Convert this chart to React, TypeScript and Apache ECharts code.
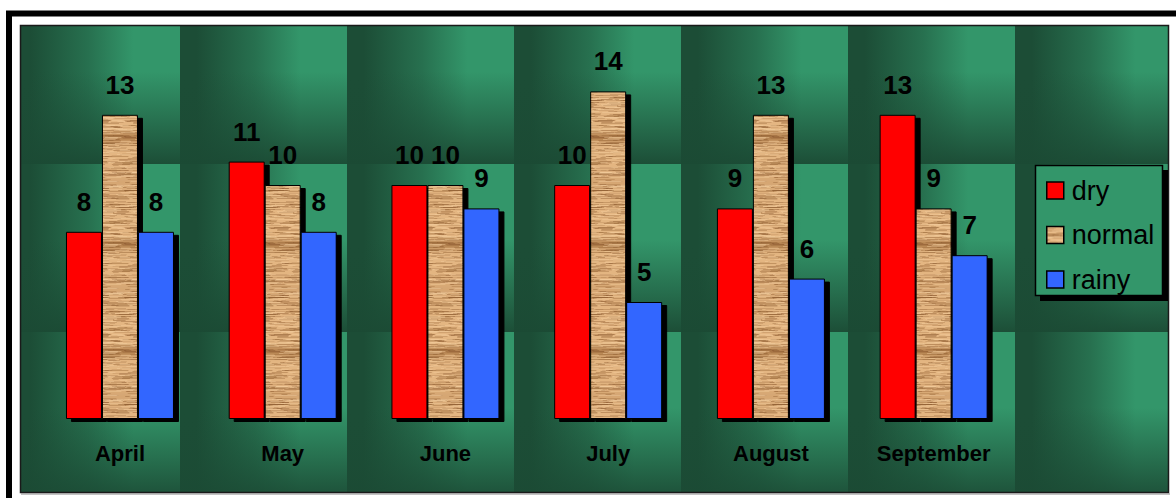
import React, { useEffect, useRef } from 'react';
import * as echarts from 'echarts';

const categories = ['April', 'May', 'June', 'July', 'August', 'September'];
const seriesNames = ['dry', 'normal', 'rainy'];
const dryValues = [8, 11, 10, 10, 9, 13];
const normalValues = [13, 10, 10, 14, 13, 9];
const rainyValues = [8, 8, 9, 5, 6, 7];

const FONT = '"Liberation Sans", Arial, Helvetica, sans-serif';
const DARK = '#1c4d36';
const LIGHT = '#33966a';

function hash(n: number): number {
  const v = Math.sin(n * 12.9898 + 78.233) * 43758.5453;
  return v - Math.floor(v);
}

function makeWood(): HTMLCanvasElement {
  const w = 36;
  const h = 107;
  const c = document.createElement('canvas');
  c.width = w;
  c.height = h;
  const ctx = c.getContext('2d')!;
  for (let y = 0; y < h; y++) {
    const d1 = Math.exp(-Math.pow((y - 30) / 5, 2));
    const d2 = 0.3 * Math.exp(-Math.pow((y - 75) / 10, 2));
    const d = Math.min(1, d1 + d2);
    const r = Math.round(228 - 48 * d);
    const g = Math.round(182 - 52 * d);
    const b = Math.round(130 - 50 * d);
    ctx.fillStyle = `rgb(${r},${g},${b})`;
    ctx.fillRect(0, y, w, 1);
  }
  for (let i = 0; i < 200; i++) {
    const y = Math.floor(hash(i + 1) * h);
    const x = hash(i + 1000) * w;
    const len = 4 + hash(i + 2000) * 20;
    const a = 0.1 + hash(i + 3000) * 0.3;
    ctx.fillStyle = `rgba(128,78,36,${a.toFixed(2)})`;
    ctx.fillRect(x, y, len, 1);
    if (x + len > w) ctx.fillRect(x - w, y, len, 1);
  }
  for (let i = 0; i < 80; i++) {
    const y = Math.floor(hash(i + 5000) * h);
    const x = hash(i + 6000) * w;
    const len = 6 + hash(i + 7000) * 18;
    ctx.fillStyle = 'rgba(245,208,160,0.4)';
    ctx.fillRect(x, y, len, 1);
    if (x + len > w) ctx.fillRect(x - w, y, len, 1);
  }
  return c;
}

export default function App() {
  const ref = useRef<HTMLDivElement>(null);

  useEffect(() => {
    if (!ref.current) return;
    const chart = echarts.init(ref.current, null, { renderer: 'svg' });
    const wood = makeWood();
    const woodPattern: any = { image: wood, repeat: 'repeat', imageWidth: wood.width, imageHeight: wood.height };

    const graphics: any[] = [];
    graphics.push({
      type: 'rect',
      z: 0,
      silent: true,
      shape: { x: 9, y: 13.5, width: 1200, height: 600 },
      style: { fill: '#fff', stroke: '#000', lineWidth: 6 },
    });
    const PX0 = 20, PX1 = 1169, PY0 = 25, PY1 = 493;
    const TW = 167, TH = 168;
    for (let i = 0; i < 7; i++) {
      const tx = 13 + TW * i;
      for (let j = 0; j < 3; j++) {
        const ty = -4 + TH * j;
        const x0 = Math.max(tx, PX0), x1 = Math.min(tx + TW, PX1);
        const y0 = Math.max(ty, PY0), y1 = Math.min(ty + TH, PY1);
        if (x1 <= x0 || y1 <= y0) continue;
        graphics.push({
          type: 'rect',
          z: 0,
          silent: true,
          shape: { x: x0, y: y0, width: x1 - x0, height: y1 - y0 },
          style: {
            fill: new echarts.graphic.LinearGradient(tx, 0, tx + TW, 0, [
              { offset: 0, color: DARK },
              { offset: 0.1, color: DARK },
              { offset: 0.45, color: '#27704f' },
              { offset: 0.72, color: LIGHT },
              { offset: 1, color: LIGHT },
            ], true),
          },
        });
        graphics.push({
          type: 'rect',
          z: 0,
          silent: true,
          shape: { x: x0, y: y0, width: x1 - x0, height: y1 - y0 },
          style: {
            fill: new echarts.graphic.LinearGradient(0, ty, 0, ty + TH, [
              { offset: 0, color: 'rgba(28,77,54,0)' },
              { offset: 0.45, color: 'rgba(28,77,54,0)' },
              { offset: 1, color: 'rgba(27,74,52,0.95)' },
            ], true),
          },
        });
      }
    }
    graphics.push({
      type: 'rect',
      z: 0,
      silent: true,
      shape: { x: 20.5, y: 25.5, width: 1148, height: 467 },
      style: { fill: 'none', stroke: '#1a1a1a', lineWidth: 1.5 },
    });
    graphics.push({
      type: 'line',
      z: 0,
      silent: true,
      shape: { x1: 21, y1: 494, x2: 1170, y2: 494 },
      style: { stroke: '#888', lineWidth: 1 },
    });
    graphics.push({
      type: 'rect',
      z: 1,
      silent: true,
      shape: { x: 1040, y: 170, width: 128, height: 131 },
      style: { fill: '#000' },
    });
    graphics.push({
      type: 'rect',
      z: 1,
      silent: true,
      shape: { x: 1035.5, y: 165.5, width: 127, height: 130 },
      style: { fill: LIGHT, stroke: '#000', lineWidth: 1.5 },
    });

    const barItem = (color: any) => ({
      color,
      borderColor: '#000',
      borderWidth: 1,
      shadowColor: '#000',
      shadowBlur: 0,
      shadowOffsetX: 5,
      shadowOffsetY: 3,
    });
    const label = {
      show: true,
      position: 'top',
      distance: 17,
      fontSize: 26,
      fontWeight: 'bold',
      color: '#000',
      fontFamily: FONT,
    };
    const valuesList = [dryValues, normalValues, rainyValues];
    const colors: any[] = ['#ff0000', woodPattern, '#3366ff'];

    chart.setOption({
      animation: false,
      backgroundColor: '#fff',
      graphic: { elements: graphics },
      grid: { left: 38.6, top: 44.6, width: 976.4, height: 374.4, containLabel: false },
      legend: {
        orient: 'vertical',
        left: 1046,
        top: 177,
        padding: 0,
        itemWidth: 17,
        itemHeight: 17,
        itemGap: 17.5,
        icon: 'rect',
        selectedMode: false,
        data: seriesNames,
        itemStyle: { borderColor: '#000', borderWidth: 1.5, shadowColor: 'transparent', shadowBlur: 0, shadowOffsetX: 0, shadowOffsetY: 0 },
        textStyle: { fontSize: 27, lineHeight: 26, color: '#000', fontFamily: FONT, padding: [0, 0, 0, 3] },
      },
      xAxis: {
        type: 'category',
        data: categories,
        axisLine: { show: false },
        axisTick: { show: false },
        splitLine: { show: false },
        axisLabel: { interval: 0, margin: 23, fontSize: 22, fontWeight: 'bold', color: '#000', fontFamily: FONT },
      },
      yAxis: { type: 'value', min: 0, max: 16, show: false, splitLine: { show: false } },
      series: seriesNames.map((name, k) => ({
        name,
        type: 'bar',
        data: valuesList[k],
        barWidth: 36,
        barGap: '0%',
        itemStyle: barItem(colors[k]),
        label,
        emphasis: { disabled: true },
      })),
    });
    return () => chart.dispose();
  }, []);

  return (
    <div
      ref={ref}
      style={{ position: 'absolute', left: 0, top: 0, width: 1176, height: 498 }}
    />
  );
}
